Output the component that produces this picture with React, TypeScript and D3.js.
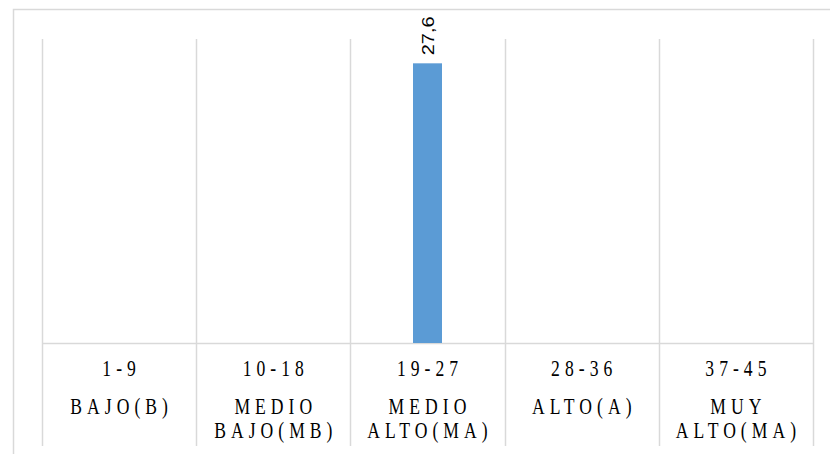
import React from "react";
import * as d3 from "d3";

const ranges = ["1-9", "10-18", "19-27", "28-36", "37-45"];
const levels = [["BAJO(B)"], ["MEDIO", "BAJO(MB)"], ["MEDIO", "ALTO(MA)"], ["ALTO(A)"], ["MUY", "ALTO(MA)"]];
const values = [0, 0, 27.6, 0, 0];
const valueLabels = ["", "", "27,6", "", ""];
const yMax = 30;

const W = 830;
const H = 454;
const plotLeft = 42;
const plotRight = 813;
const plotTop = 39;
const axisY = 343;
const gridBottom = 446;

export default function App() {
  const x = d3.scaleBand<string>().domain(ranges).range([plotLeft, plotRight]).paddingInner(0).paddingOuter(0);
  const y = d3.scaleLinear().domain([0, yMax]).range([axisY, plotTop]);
  const barW = 29;
  const gridXs = ranges.map((r) => x(r)!).concat([plotRight]);
  const ls = 6.3;
  return (
    <svg width={W} height={H} style={{ position: "absolute", left: 0, top: 0, background: "#fff" }}>
      <rect x={13.5} y={9.5} width={W} height={H} fill="none" stroke="#d9d9d9" strokeWidth={1.5} />
      {gridXs.map((gx, i) => (
        <line key={i} x1={Math.round(gx) + 0.5} x2={Math.round(gx) + 0.5} y1={plotTop} y2={gridBottom} stroke="#d9d9d9" strokeWidth={1.5} />
      ))}
      <line x1={plotLeft} x2={plotRight} y1={axisY + 0.5} y2={axisY + 0.5} stroke="#d9d9d9" strokeWidth={1.5} />
      {values.map((v, i) => {
        const cx = x(ranges[i])! + x.bandwidth() / 2;
        if (v <= 0) return null;
        return (
          <g key={i}>
            <rect x={cx - barW / 2} y={y(v)} width={barW} height={axisY - y(v)} fill="#5B9BD5" />
            <g transform={`translate(${cx + 1},${y(v) - 8}) scale(0.85,1) rotate(-90)`}>
              <text x={0} y={0} dominantBaseline="central" textAnchor="start" fontFamily="Liberation Sans, Arial, sans-serif" fontSize={20} fill="#000">
                {valueLabels[i]}
              </text>
            </g>
          </g>
        );
      })}
      {ranges.map((r, i) => {
        const cx = x(r)! + x.bandwidth() / 2;
        const lines = [r, ...levels[i]];
        const baselines = [376, 414, 437.5];
        return (
          <g key={r}>
            {lines.map((t, j) => (
              <g key={j} transform={`translate(${cx},${baselines[j]}) scale(0.8,1.03)`}>
                <text x={ls / 2} y={0} textAnchor="middle" fontFamily="Liberation Serif, Times New Roman, serif" fontSize={22} letterSpacing={ls} fill="#000">
                  {t}
                </text>
              </g>
            ))}
          </g>
        );
      })}
    </svg>
  );
}
